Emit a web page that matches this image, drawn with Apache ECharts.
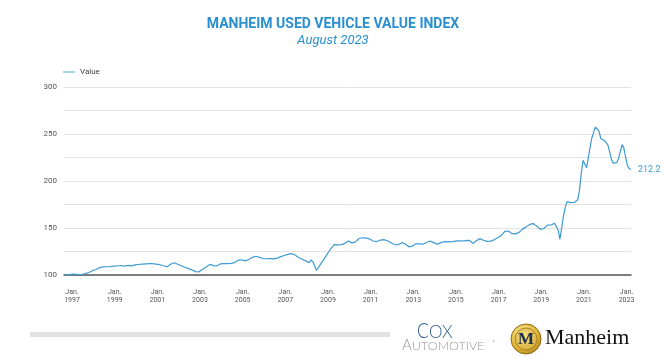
<!DOCTYPE html>
<html>
<head>
<meta charset="utf-8">
<script src="https://cdn.jsdelivr.net/npm/echarts@6/dist/echarts.min.js"></script>
<style>
html,body{margin:0;padding:0;background:#ffffff;}
#chart{width:666px;height:357px;}
</style>
</head>
<body>
<div id="chart"></div>
<script>
// ---- Data ----
const startYear = 1997;
const titleText = 'MANHEIM USED VEHICLE VALUE INDEX';
const subtitleText = 'August 2023';
const seriesName = 'Value';

// Monthly index values, Jan 1997 .. Aug 2023
const v1997_2001 = [
  100.0, 100.3, 99.9, 100.2, 100.6, 100.4, 100.9, 100.6, 100.3, 100.1, 100.5, 101.0,
  101.4, 102.0, 102.7, 103.6, 104.6, 105.3, 105.8, 106.8, 107.8, 108.4, 108.6, 108.5,
  108.8, 108.5, 108.9, 109.2, 109.5, 109.8, 109.6, 109.9, 110.1, 109.8, 109.5, 109.9,
  110.2, 110.0, 109.7, 110.3, 110.8, 111.0, 111.2, 111.4, 111.6, 111.8, 111.9, 112.0,
  112.0, 112.2, 112.0, 111.8, 111.5, 111.2, 110.9, 110.4, 109.8, 110.6, 108.8, 109.2
];
const v2002_2006 = [
  111.5, 113.3, 113.0, 112.2, 111.4, 110.6, 109.8, 109.0, 108.2, 107.4, 106.8, 106.3,
  105.5, 104.6, 103.6, 102.5, 103.4, 104.8, 106.2, 107.4, 108.5, 110.0, 111.3, 110.6,
  110.0, 109.4, 109.8, 110.8, 111.8, 112.2, 112.0, 111.8, 112.1, 112.4, 112.3, 112.6,
  113.2, 114.5, 115.8, 116.4, 116.2, 115.6, 115.0, 115.4, 116.5, 117.6, 118.8, 119.6,
  119.9, 119.5, 118.8, 118.0, 117.5, 117.4, 117.3, 117.6, 117.5, 117.3, 117.2, 117.6
];
const v2007_2011 = [
  118.0, 118.8, 119.5, 120.2, 120.8, 121.5, 122.0, 122.5, 122.8, 122.4, 121.2, 120.0,
  118.6, 117.6, 116.8, 116.0, 115.0, 114.0, 113.2, 116.2, 114.0, 110.0, 104.8, 104.5,
  110.5, 113.5, 116.0, 119.0, 122.0, 125.0, 127.5, 130.0, 132.3, 132.2, 132.0, 132.3,
  132.3, 132.6, 133.6, 135.0, 136.2, 135.4, 134.2, 134.0, 135.2, 137.0, 138.8, 139.8,
  139.6, 139.4, 139.2, 139.0, 138.4, 137.4, 136.2, 135.2, 135.6, 136.4, 137.2, 137.6
];
const v2012_2016 = [
  137.6, 137.2, 136.4, 135.4, 134.4, 133.4, 132.4, 131.6, 132.2, 133.6, 134.4, 134.0,
  133.0, 131.6, 130.0, 129.8, 130.8, 132.0, 133.2, 133.4, 133.2, 132.8, 132.8, 133.6,
  134.6, 135.6, 136.2, 135.6, 134.4, 133.2, 132.8, 133.4, 134.4, 135.2, 135.4, 135.6,
  135.2, 135.0, 135.4, 135.8, 136.0, 136.2, 136.2, 136.0, 136.2, 136.4, 136.6, 136.9,
  136.9, 135.4, 133.6, 134.6, 136.4, 138.0, 138.7, 138.0, 137.0, 136.2, 135.8, 135.8
];
const v2017_2021 = [
  136.0, 136.4, 137.4, 138.4, 139.6, 140.8, 142.0, 144.0, 146.5, 148.3, 146.8, 144.8,
  144.0, 143.6, 143.8, 144.0, 145.4, 147.0, 148.8, 150.2, 151.2, 152.6, 153.8, 154.6,
  154.7, 153.8, 152.0, 150.0, 148.6, 147.5, 149.5, 151.5, 153.0, 153.6, 153.2, 154.7,
  155.0, 156.4, 148.0, 138.0, 150.0, 163.0, 172.0, 178.0, 177.4, 177.0, 176.8, 177.2,
  177.5, 180.0, 190.0, 208.0, 222.0, 218.0, 214.0, 213.5, 236.0, 246.0, 252.0, 257.4
];
const v2022_2023 = [
  256.5, 253.0, 245.0, 243.0, 243.3, 241.5, 238.5, 231.0, 223.0, 219.0, 218.2, 219.5,
  224.0, 231.5, 238.7, 235.0, 225.0, 216.5, 213.2, 212.2
];
const values = [].concat(v1997_2001, v2002_2006, v2007_2011, v2012_2016, v2017_2021, v2022_2023);

// Month categories built from the start year
const categories = values.map(function (v, i) {
  const y = startYear + Math.floor(i / 12);
  const m = (i % 12) + 1;
  return y + '-' + (m < 10 ? '0' : '') + m;
});
const yLabelStep = 50;

const blue = '#2a8fd0';
const lineBlue = '#3d9ad3';

const chart = echarts.init(document.getElementById('chart'), null, { renderer: 'canvas' });
chart.setOption({
  animation: false,
  backgroundColor: '#ffffff',
  textStyle: { fontFamily: 'Roboto' },
  legend: {
    data: [{ name: seriesName, itemStyle: { color: '#a9d4f0' } }],
    left: 63,
    top: 68,
    padding: 0,
    icon: 'rect',
    itemWidth: 12,
    itemHeight: 2,
    textStyle: { fontSize: 8, color: '#444', fontFamily: 'Roboto' }
  },
  grid: { left: 64, right: 35, top: 87, bottom: 82 },
  xAxis: {
    type: 'category',
    data: categories,
    boundaryGap: false,
    axisLine: { lineStyle: { color: '#555', width: 1.5 } },
    axisTick: { show: false },
    splitLine: { show: false },
    axisLabel: {
      interval: function (i) { return i % 24 === 0; },
      formatter: function (v) { return 'Jan.\n' + v.slice(0, 4); },
      fontSize: 7,
      lineHeight: 8,
      color: '#555',
      margin: 13,
      padding: [0, 0, 0, 16]
    }
  },
  yAxis: {
    type: 'value',
    min: 100,
    max: 300,
    interval: 25,
    axisLine: { show: false },
    axisTick: { show: false },
    splitLine: { lineStyle: { color: '#e3e3e3', width: 1 } },
    axisLabel: {
      formatter: function (v) { return v % yLabelStep === 0 ? String(v) : ''; },
      fontSize: 8,
      color: '#555',
      margin: 7
    }
  },
  series: [{
    name: seriesName,
    type: 'line',
    data: values,
    symbol: 'none',
    lineStyle: { color: lineBlue, width: 1.2 },
    itemStyle: { color: lineBlue },
    endLabel: {
      show: true,
      distance: 7,
      formatter: function (p) { return Number(p.value).toFixed(1); },
      color: lineBlue,
      fontSize: 9,
      fontFamily: 'Roboto'
    }
  }],
  graphic: [
    { type: 'text', x: 333, y: 24, style: { text: titleText, font: 'bold 14px Roboto', fill: blue, align: 'center', verticalAlign: 'middle', textAlign: 'center', textVerticalAlign: 'middle' } },
    { type: 'text', x: 333, y: 41, style: { text: subtitleText, font: 'italic 13px Roboto', fill: blue, align: 'center', verticalAlign: 'middle', textAlign: 'center', textVerticalAlign: 'middle' } },
    { type: 'rect', shape: { x: 30, y: 332, width: 360, height: 5 }, style: { fill: '#e2e2e2' } },
    { type: 'text', x: 417, y: 331, style: { text: 'C', font: '300 22px Lato', fill: '#2d5b8d', align: 'left', verticalAlign: 'middle', textAlign: 'left', textVerticalAlign: 'middle' }, scaleX: 0.8 },
    { type: 'text', x: 429, y: 333, style: { text: 'OX', font: '300 17px Lato', fill: '#2d5b8d', align: 'left', verticalAlign: 'middle', textAlign: 'left', textVerticalAlign: 'middle' } },
    { type: 'text', x: 402, y: 345, style: { text: 'A', font: '300 15px Lato', fill: '#9a9a9a', align: 'left', verticalAlign: 'middle', textAlign: 'left', textVerticalAlign: 'middle' } },
    { type: 'text', x: 412, y: 346, style: { text: 'UTOMOTIVE', font: '300 12.5px Lato', fill: '#9a9a9a', align: 'left', verticalAlign: 'middle', textAlign: 'left', textVerticalAlign: 'middle' } },
    { type: 'text', x: 492, y: 342, style: { text: '®', font: '4px Lato', fill: '#aaaaaa', align: 'left', verticalAlign: 'middle', textAlign: 'left', textVerticalAlign: 'middle' } },
    { type: 'circle', shape: { cx: 526, cy: 339, r: 15 }, style: { fill: { type: 'radial', x: 0.4, y: 0.35, r: 0.75, colorStops: [{ offset: 0, color: '#fff2a6' }, { offset: 0.6, color: '#e2b73a' }, { offset: 1, color: '#a37a14' }] }, stroke: '#8d6b12', lineWidth: 1 } },
    { type: 'circle', shape: { cx: 526, cy: 339, r: 11 }, style: { fill: { type: 'radial', x: 0.45, y: 0.4, r: 0.8, colorStops: [{ offset: 0, color: '#fbe48a' }, { offset: 1, color: '#c99a22' }] }, stroke: '#9c7716', lineWidth: 0.8 } },
    { type: 'text', x: 526, y: 340, style: { text: 'M', font: 'bold 17px "Liberation Serif"', fill: '#1f2d4f', stroke: '#e8c24a', lineWidth: 0.6, align: 'center', verticalAlign: 'middle', textAlign: 'center', textVerticalAlign: 'middle' } },
    { type: 'text', x: 545, y: 338, style: { text: 'Manheim', font: '22px "Liberation Serif"', fill: '#111111', align: 'left', verticalAlign: 'middle', textAlign: 'left', textVerticalAlign: 'middle' } }
  ]
});
</script>
</body>
</html>
